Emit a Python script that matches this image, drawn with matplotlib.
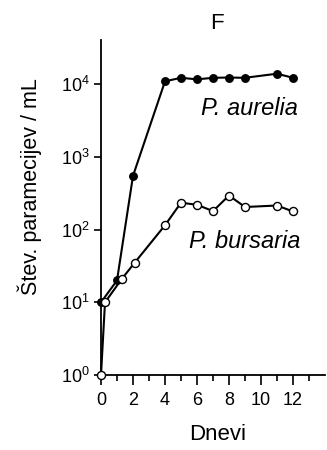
import numpy as np
import matplotlib
matplotlib.use("Agg")
import matplotlib.pyplot as plt
from matplotlib.ticker import FixedLocator, LogLocator, NullLocator

plt.rcParams['font.family'] = ['Liberation Sans', 'DejaVu Sans']
plt.rcParams['mathtext.default'] = 'regular'

# P. aurelia (polni krogi)
aur_x = [0, 1, 2, 4, 5, 6, 7, 8, 9, 11, 12]
aur_y = [10, 20, 550, 11000, 12300, 11700, 12300, 12400, 12300, 14000, 12300]

# P. bursaria (prazni krogi)
bur_x = [0, 0.25, 1.3, 2.1, 4, 5, 6, 7, 8, 9, 11, 12]
bur_y = [1, 10, 21, 35, 115, 235, 220, 180, 295, 205, 215, 178]

xticks = [0, 2, 4, 6, 8, 10, 12]

fig = plt.figure(figsize=(3.27, 4.5), dpi=100)
ax = fig.add_axes([101/327, 75/450, 224/327, 335/450])

ax.plot(aur_x, aur_y, '-o', color='black', lw=1.5, ms=5.4,
        mfc='black', mec='black', clip_on=False, zorder=3)
ax.plot(bur_x, bur_y, '-o', color='black', lw=1.5, ms=5.8,
        mfc='white', mec='black', mew=1.0, clip_on=False, zorder=4)

ax.set_yscale('log')
ax.set_ylim(1, 10**4.61)
ax.set_xlim(0, 14)
ax.yaxis.set_major_locator(LogLocator(base=10, numticks=10))
ax.yaxis.set_minor_locator(NullLocator())
ax.set_xticks(xticks)
ax.xaxis.set_minor_locator(FixedLocator(np.arange(0, 14)))

for s in ['top', 'right']:
    ax.spines[s].set_visible(False)
for s in ['left', 'bottom']:
    ax.spines[s].set_linewidth(1.3)

ax.tick_params(axis='both', which='both', direction='out', width=1.2,
               labelsize=13)
ax.tick_params(axis='x', which='major', length=7.5, pad=5)
ax.tick_params(axis='x', which='minor', length=4.5)
ax.tick_params(axis='y', which='major', length=5, pad=3)

ax.text(12.31, 3790, 'P. aurelia', style='italic', fontsize=17, ha='right', va='baseline')
ax.text(12.48, 56, 'P. bursaria', style='italic', fontsize=17, ha='right', va='baseline')

ax.set_xlabel('Dnevi', fontsize=16)
ax.xaxis.set_label_coords(0.52, -0.145)
ax.set_ylabel('Štev. paramecijev / mL', fontsize=15.5)
ax.yaxis.set_label_coords(-0.265, 0.563)
ax.text(0.518, 1.033, 'F', fontsize=16, ha='center', va='baseline',
        transform=ax.transAxes)

fig.savefig('out.png', dpi=100)
